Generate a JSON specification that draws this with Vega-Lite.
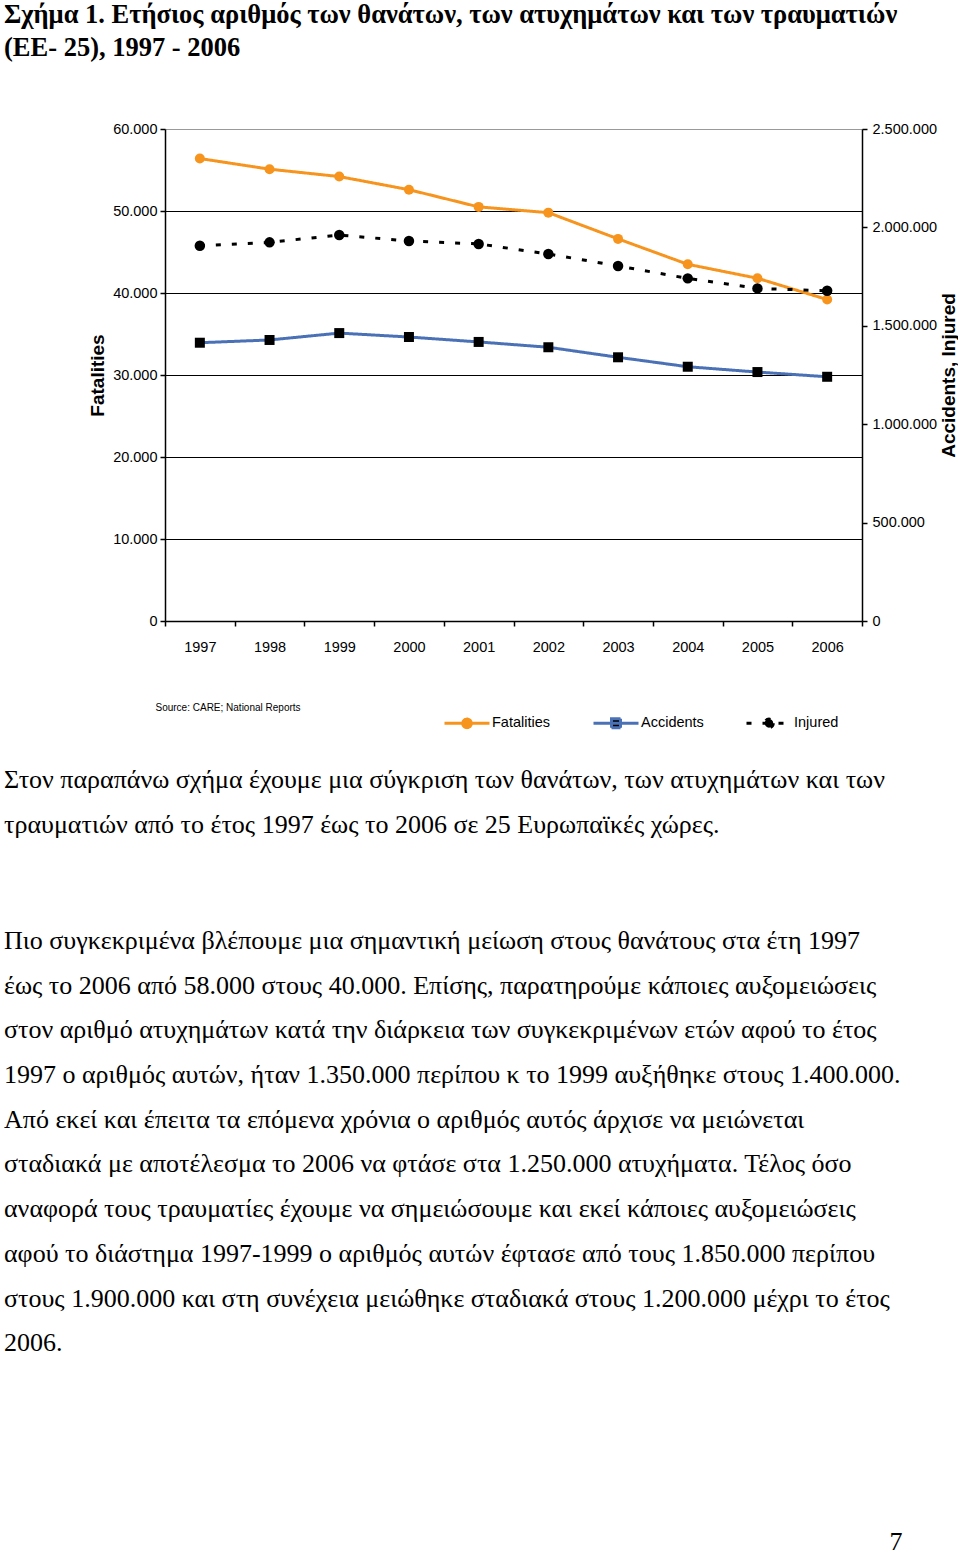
{
  "$schema": "https://vega.github.io/schema/vega-lite/v6.json",
  "background": "white",
  "padding": {"left": 4, "top": 1, "right": 0, "bottom": 0},
  "title": {
    "text": ["Σχήμα 1. Ετήσιος αριθμός των θανάτων, των ατυχημάτων και των τραυματιών", "(ΕΕ- 25), 1997 - 2006"],
    "anchor": "start", "font": "Liberation Serif", "fontSize": 26.5, "fontWeight": "bold",
    "color": "black", "lineHeight": 33, "baseline": "top", "offset": 60
  },
  "columns": 1,
  "align": "none",
  "spacing": 0,
  "config": {"view": {"stroke": null}, "font": "Liberation Sans"},
  "datasets": {
    "series": [
      {"year": "1997", "series": "Fatalities", "value": 56400},
      {"year": "1998", "series": "Fatalities", "value": 55100},
      {"year": "1999", "series": "Fatalities", "value": 54200},
      {"year": "2000", "series": "Fatalities", "value": 52600},
      {"year": "2001", "series": "Fatalities", "value": 50500},
      {"year": "2002", "series": "Fatalities", "value": 49800},
      {"year": "2003", "series": "Fatalities", "value": 46600},
      {"year": "2004", "series": "Fatalities", "value": 43500},
      {"year": "2005", "series": "Fatalities", "value": 41800},
      {"year": "2006", "series": "Fatalities", "value": 39200},
      {"year": "1997", "series": "Accidents", "value": 1414000},
      {"year": "1998", "series": "Accidents", "value": 1428000},
      {"year": "1999", "series": "Accidents", "value": 1463000},
      {"year": "2000", "series": "Accidents", "value": 1443000},
      {"year": "2001", "series": "Accidents", "value": 1418000},
      {"year": "2002", "series": "Accidents", "value": 1391000},
      {"year": "2003", "series": "Accidents", "value": 1340000},
      {"year": "2004", "series": "Accidents", "value": 1292000},
      {"year": "2005", "series": "Accidents", "value": 1265000},
      {"year": "2006", "series": "Accidents", "value": 1241000},
      {"year": "1997", "series": "Injured", "value": 1907000},
      {"year": "1998", "series": "Injured", "value": 1924000},
      {"year": "1999", "series": "Injured", "value": 1961000},
      {"year": "2000", "series": "Injured", "value": 1931000},
      {"year": "2001", "series": "Injured", "value": 1916000},
      {"year": "2002", "series": "Injured", "value": 1865000},
      {"year": "2003", "series": "Injured", "value": 1804000},
      {"year": "2004", "series": "Injured", "value": 1741000},
      {"year": "2005", "series": "Injured", "value": 1690000},
      {"year": "2006", "series": "Injured", "value": 1678000}
    ]
  },
  "concat": [
    {
      "width": 697,
      "height": 492,
      "data": {"name": "series"},
      "encoding": {
        "x": {
          "field": "year", "type": "ordinal",
          "scale": {"type": "band", "paddingInner": 0, "paddingOuter": 0},
          "axis": {
            "orient": "bottom", "tickBand": "extent", "labelAngle": 0, "tickSize": 5,
            "labelPadding": 14, "labelFont": "Liberation Sans", "labelFontSize": 14.5, "labelColor": "black",
            "domainColor": "black", "domainWidth": 1.5, "tickColor": "black", "tickWidth": 1.5,
            "title": "Source: CARE; National Reports", "titleFont": "Liberation Sans",
            "titleFontSize": 10, "titleFontWeight": "normal", "titleColor": "black",
            "titleAnchor": "start", "titleAlign": "left", "titleX": -10, "titleY": 86, "titleBaseline": "middle"
          }
        }
      },
      "layer": [
        {
          "transform": [{"filter": "datum.series === 'Fatalities'"}],
          "encoding": {
            "y": {
              "field": "value", "type": "quantitative",
              "scale": {"domain": [0, 60000], "nice": false},
              "axis": {
                "orient": "left", "title": "Fatalities", "titleFont": "Liberation Sans", "titleFontSize": 19,
                "titleFontWeight": "bold", "titleColor": "black", "titleX": -68, "titleY": 246,
                "titleAngle": 270, "titleBaseline": "middle", "titleAlign": "center",
                "values": [0, 10000, 20000, 30000, 40000, 50000, 60000],
                "labelExpr": "join(split(format(datum.value, ','), ','), '.')",
                "labelFont": "Liberation Sans", "labelFontSize": 14.5, "labelColor": "black",
                "labelPadding": 3, "tickSize": 5, "tickColor": "black", "tickWidth": 1.5,
                "domainColor": "black", "domainWidth": 1.5,
                "grid": true, "gridWidth": 1.2,
                "gridColor": {"condition": {"test": "datum.value === 60000", "value": "#999999"}, "value": "black"}
              }
            }
          },
          "layer": [
            {
              "mark": {"type": "line", "strokeWidth": 3},
              "encoding": {
                "color": {
                  "field": "series", "type": "nominal",
                  "scale": {"domain": ["Fatalities", "Accidents", "Injured"], "range": ["#F7941D", "#4A71B6", "#000000"]},
                  "legend": {
                    "title": null, "orient": "none", "legendX": 278, "legendY": 570, "direction": "horizontal",
                    "gridAlign": "each", "columnPadding": 36, "labelFont": "Liberation Sans", "labelFontSize": 14.5,
                    "labelColor": "black", "symbolSize": 2025, "symbolStrokeWidth": 3, "labelOffset": 1,
                    "encode": {
                      "symbols": {
                        "update": {
                          "shape": {"signal": "datum.value === 'Accidents' ? 'M-1,0H1M-0.2,-0.2H0.2V0.2H-0.2Z' : 'M-1,0H1M0.19,0A0.19,0.19 0 1,1 -0.19,0A0.19,0.19 0 1,1 0.19,0Z'"},
                          "fill": {"signal": "datum.value === 'Fatalities' ? '#F7941D' : '#000000'"},
                          "strokeDash": {"signal": "datum.value === 'Injured' ? [6, 9] : [1, 0]"}
                        }
                      }
                    }
                  }
                },
                "strokeDash": {
                  "field": "series", "type": "nominal",
                  "scale": {"domain": ["Fatalities", "Accidents", "Injured"], "range": [[1, 0], [1, 0], [5, 11]]},
                  "legend": null
                }
              }
            },
            {
              "mark": {"type": "point", "shape": "circle", "filled": true, "opacity": 1, "size": 100, "color": "#F7941D"}
            }
          ]
        },
        {
          "transform": [{"filter": "datum.series !== 'Fatalities'"}],
          "encoding": {
            "y": {
              "field": "value", "type": "quantitative",
              "scale": {"domain": [0, 2500000], "nice": false},
              "axis": {
                "orient": "right", "title": "Accidents, Injured", "titleFont": "Liberation Sans", "titleFontSize": 19,
                "titleFontWeight": "bold", "titleColor": "black", "titleX": 86, "titleY": 246,
                "titleAngle": 270, "titleBaseline": "middle", "titleAlign": "center",
                "values": [0, 500000, 1000000, 1500000, 2000000, 2500000],
                "labelExpr": "join(split(format(datum.value, ','), ','), '.')",
                "labelFont": "Liberation Sans", "labelFontSize": 14.5, "labelColor": "black",
                "labelPadding": 5, "tickSize": 5, "tickColor": "black", "tickWidth": 1.5,
                "domainColor": "black", "domainWidth": 1.5, "grid": false
              }
            }
          },
          "layer": [
            {
              "mark": {"type": "line", "strokeWidth": 3},
              "encoding": {
                "color": {"field": "series", "type": "nominal"},
                "strokeDash": {"field": "series", "type": "nominal", "legend": null},
                "strokeWidth": {
                  "field": "series", "type": "nominal", "legend": null,
                  "scale": {"domain": ["Accidents", "Injured"], "range": [3, 3.5]}
                }
              }
            },
            {
              "transform": [{"filter": "datum.series === 'Accidents'"}],
              "mark": {"type": "point", "shape": "square", "filled": true, "opacity": 1, "size": 100, "color": "#000000"}
            },
            {
              "transform": [{"filter": "datum.series === 'Injured'"}],
              "mark": {"type": "point", "shape": "circle", "filled": true, "opacity": 1, "size": 110, "color": "#000000"}
            }
          ]
        }
      ],
      "resolve": {"scale": {"y": "independent"}}
    },
    {
      "width": 700,
      "height": 180,
      "data": {"values": [
        {"line": 1, "text": "Στον παραπάνω σχήμα έχουμε μια σύγκριση  των θανάτων, των ατυχημάτων και των"},
        {"line": 2, "text": "τραυματιών από το έτος 1997 έως το 2006 σε 25 Ευρωπαϊκές χώρες."}
      ]},
      "mark": {"type": "text", "align": "left", "baseline": "middle", "font": "Liberation Serif", "fontSize": 26, "color": "black", "dx": -161},
      "encoding": {
        "y": {"field": "line", "type": "ordinal", "axis": null, "scale": {"type": "band", "paddingInner": 0, "paddingOuter": 1, "align": 0.5056}},
        "x": {"value": 0},
        "text": {"field": "text"}
      }
    },
    {
      "width": 700,
      "height": 536.4,
      "data": {"values": [
        {"line": 1, "text": "Πιο συγκεκριμένα βλέπουμε μια σημαντική μείωση στους θανάτους στα έτη 1997"},
        {"line": 2, "text": "έως το 2006 από 58.000 στους 40.000. Επίσης, παρατηρούμε κάποιες αυξομειώσεις"},
        {"line": 3, "text": "στον αριθμό ατυχημάτων κατά την διάρκεια των συγκεκριμένων ετών αφού το έτος"},
        {"line": 4, "text": "1997 ο αριθμός αυτών, ήταν 1.350.000 περίπου κ το 1999 αυξήθηκε στους 1.400.000."},
        {"line": 5, "text": "Από εκεί και έπειτα τα επόμενα χρόνια ο αριθμός αυτός άρχισε να μειώνεται"},
        {"line": 6, "text": "σταδιακά με αποτέλεσμα το 2006  να φτάσε στα 1.250.000 ατυχήματα. Τέλος όσο"},
        {"line": 7, "text": "αναφορά τους τραυματίες έχουμε να σημειώσουμε  και εκεί κάποιες αυξομειώσεις"},
        {"line": 8, "text": "αφού το διάστημα 1997-1999 ο αριθμός αυτών έφτασε από τους 1.850.000 περίπου"},
        {"line": 9, "text": "στους 1.900.000 και στη συνέχεια μειώθηκε σταδιακά στους 1.200.000 μέχρι το έτος"},
        {"line": 10, "text": "2006."}
      ]},
      "mark": {"type": "text", "align": "left", "baseline": "middle", "font": "Liberation Serif", "fontSize": 26, "color": "black", "dx": -161},
      "encoding": {
        "y": {"field": "line", "type": "ordinal", "axis": null, "scale": {"type": "band", "paddingInner": 0, "paddingOuter": 1, "align": 0.298}},
        "x": {"value": 0},
        "text": {"field": "text"}
      }
    },
    {
      "width": 731,
      "height": 112.6,
      "data": {"values": [{"page": "7"}]},
      "mark": {"type": "text", "align": "center", "baseline": "middle", "font": "Liberation Serif", "fontSize": 26, "color": "black"},
      "encoding": {
        "x": {"value": "width"},
        "y": {"value": "height"},
        "text": {"field": "page"}
      }
    }
  ]
}
